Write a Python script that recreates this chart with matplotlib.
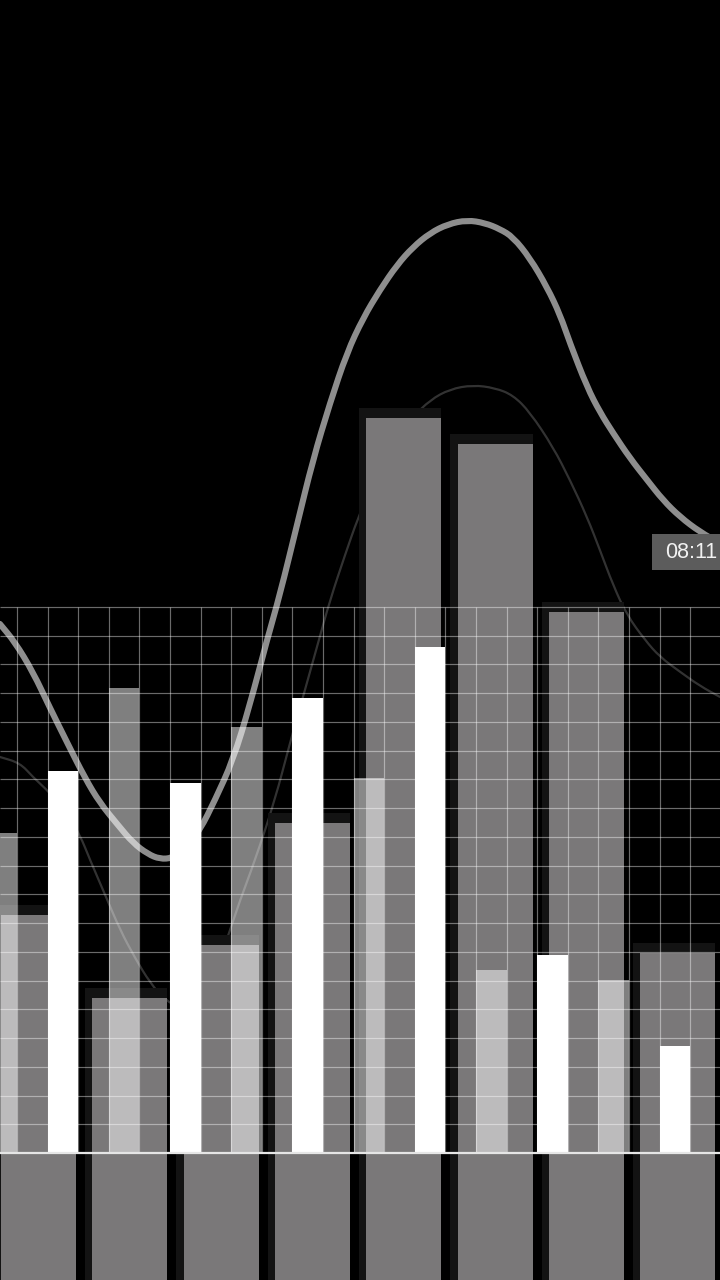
import matplotlib
matplotlib.use("Agg")
import matplotlib.pyplot as plt
from matplotlib.patches import Rectangle, PathPatch
from matplotlib.path import Path

# ---------------- data (grid units: 1 unit = one grid row / column) ----------------
wide_values   = [8.28, 5.39, 7.24, 11.48, 25.57, 24.67, 18.82, 6.96]   # big grey columns
narrow_values = [11.13, 16.18, 14.82, 13.05, 6.37, 6.02]              # translucent columns
white_values  = [13.29, 12.87, 15.83, 17.61, 6.89, 3.72]              # white columns

main_x = [-0.56, -0.07, 0.52, 1.08, 1.63, 2.22, 2.71, 3.30, 3.79, 4.28, 4.67, 5.07,
          5.49, 5.98, 6.47, 7.06, 7.61, 8.17, 8.59, 9.15, 9.67, 10.23, 10.78, 11.31,
          11.86, 12.42, 12.94, 13.50, 14.08, 14.71, 15.29, 15.78, 16.21, 16.76, 17.32,
          17.75, 18.07, 18.63, 19.05, 19.48, 20.03, 20.59, 21.11, 21.67, 22.32, 22.97]
main_y = [18.41, 17.78, 16.74, 15.48, 14.30, 13.05, 12.18, 11.41, 10.79, 10.40, 10.23,
          10.26, 10.54, 11.24, 12.28, 13.67, 15.59, 17.85, 19.42, 21.85, 24.11, 26.10,
          27.84, 29.05, 30.03, 30.90, 31.52, 32.01, 32.32, 32.46, 32.36, 32.15, 31.87,
          31.14, 30.13, 29.16, 28.18, 26.65, 25.78, 25.05, 24.18, 23.42, 22.72, 22.13,
          21.61, 21.22]

thin_x = [-0.56, 0.10, 0.52, 1.08, 1.63, 2.06, 2.39, 2.88, 3.37, 3.86, 4.35, 4.84, 5.33,
          5.82, 6.31, 6.80, 7.29, 7.78, 8.43, 8.92, 9.41, 9.84, 10.23, 10.72, 11.14,
          11.54, 12.03, 12.52, 12.94, 13.50, 14.15, 14.90, 15.62, 16.21, 16.76, 17.52,
          18.07, 18.63, 19.05, 19.48, 19.93, 20.52, 21.01, 21.67, 22.32, 22.97]
thin_y = [13.78, 13.57, 13.08, 12.53, 11.83, 11.06, 10.19, 8.98, 7.76, 6.78, 5.92, 5.32,
          5.05, 5.15, 5.85, 7.24, 8.80, 10.19, 12.28, 14.27, 16.11, 17.75, 19.24, 20.81,
          22.09, 23.07, 24.11, 24.98, 25.61, 26.20, 26.58, 26.72, 26.62, 26.37, 25.78,
          24.56, 23.42, 22.13, 20.98, 19.76, 18.72, 17.85, 17.26, 16.74, 16.25, 15.87]

label_text = "08:11"
label_value = 20.91

# ---------------- layout / style ----------------
W, H, DPI = 720, 1280, 100
PX_X = 30.6      # pixels per grid column
PX_Y = 28.74     # pixels per grid row
X0_PX, BASE_PX = 17, 1153
GRID_ROWS, GRID_COLS = 19, 23


def smooth_path(xs, ys):
    """Quadratic-Bezier path that uses the read points as control points."""
    pts = list(zip(xs, ys))
    verts = [pts[0]]
    codes = [Path.MOVETO]
    mids = [((pts[i][0] + pts[i + 1][0]) / 2, (pts[i][1] + pts[i + 1][1]) / 2)
            for i in range(len(pts) - 1)]
    verts.append(mids[0])
    codes.append(Path.LINETO)
    for i in range(1, len(pts) - 1):
        verts += [pts[i], mids[i]]
        codes += [Path.CURVE3, Path.CURVE3]
    verts.append(pts[-1])
    codes.append(Path.LINETO)
    return Path(verts, codes)


fig = plt.figure(figsize=(W / DPI, H / DPI), dpi=DPI, facecolor="black")
ax = fig.add_axes([0, 0, 1, 1])
ax.set_facecolor("black")
ax.set_xlim(-X0_PX / PX_X, (W - X0_PX) / PX_X)
ax.set_ylim(-(H - BASE_PX) / PX_Y, BASE_PX / PX_Y)
ax.axis("off")
bottom = -(H - BASE_PX) / PX_Y - 0.5

# thin background curve (behind big columns)
ax.add_patch(PathPatch(smooth_path(thin_x, thin_y), facecolor="none",
                       edgecolor=(1, 1, 1, 0.2), lw=1.6, zorder=1,
                       capstyle="round", joinstyle="round"))

# big grey columns with a soft dark shadow
wide_pos = [0.7 + 2.985 * i for i in range(len(wide_values))]
wide_w = 2.45
ax.bar([x - 0.12 for x in wide_pos], [v + 0.35 - bottom for v in wide_values],
       width=wide_w + 0.24, bottom=bottom, color="#131313", zorder=1.5, linewidth=0)
ax.bar(wide_pos, [v - bottom for v in wide_values], width=wide_w, bottom=bottom,
       color="#7a7879", zorder=2, linewidth=0)

# translucent narrow columns
narrow_pos = [-0.5 + 4 * i for i in range(len(narrow_values))]
ax.bar(narrow_pos, narrow_values, width=1.0, color="white", alpha=0.5,
       zorder=3, linewidth=0)

# main thick curve
ax.add_patch(PathPatch(smooth_path(main_x, main_y), facecolor="none",
                       edgecolor=(1, 1, 1, 0.56), lw=4.4, zorder=4,
                       capstyle="round", joinstyle="round"))

# white columns
white_pos = [1.5 + 4 * i for i in range(len(white_values))]
ax.bar(white_pos, white_values, width=1.0, color="white", zorder=5, linewidth=0)

# grid on top
xmin, xmax = ax.get_xlim()
ax.hlines(range(1, GRID_ROWS + 1), xmin, xmax, color="white", alpha=0.42,
          lw=0.85, zorder=6)
ax.vlines(range(0, GRID_COLS), 0, GRID_ROWS, color="white", alpha=0.42,
          lw=0.85, zorder=6)
ax.hlines([0], xmin, xmax, color="#e6e6e6", lw=1.6, zorder=7)

# time label
box_h = 36 / PX_Y
ax.add_patch(Rectangle(((652 - X0_PX) / PX_X, label_value - box_h / 2),
                       (W - 652 + 10) / PX_X, box_h, facecolor="#5c5c5c",
                       edgecolor="none", zorder=8))
ax.text((665 - X0_PX) / PX_X, label_value, label_text, color="#f2f2f2",
        fontsize=15.5, family="Liberation Sans", va="center", ha="left", zorder=9)

fig.savefig("out.png", dpi=DPI, facecolor="black")
